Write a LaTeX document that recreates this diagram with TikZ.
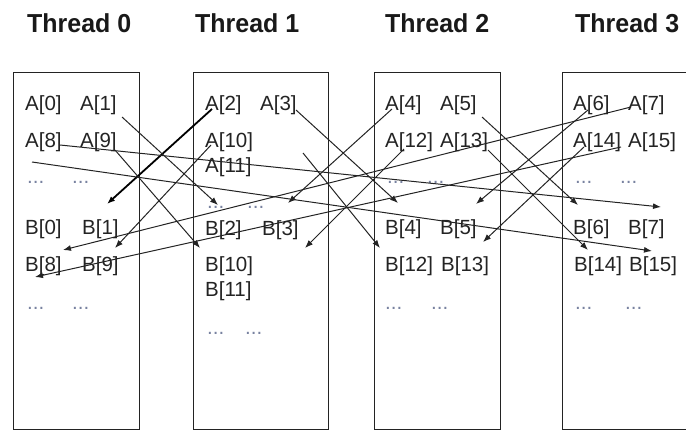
\documentclass[tikz,border=0pt]{standalone}
\usepackage{fontspec}
\setmainfont{Liberation Sans}
\usetikzlibrary{arrows.meta}
\definecolor{dotgray}{RGB}{120,130,160}
\definecolor{ink}{RGB}{35,35,35}
\begin{document}
\begin{tikzpicture}[x=1pt,y=-1pt,
  lbl/.style={anchor=base west, inner sep=0pt, font=\fontsize{20.5}{24}\selectfont, text=ink},
  dotrow/.style={lbl, text=dotgray},
  title/.style={anchor=base west, inner sep=0pt, font=\bfseries\fontsize{26}{30}\selectfont,
                text=black!90, xscale=0.96},
  lane/.style={draw=ink, line width=1.3pt, anchor=north west, inner sep=0pt,
               minimum height=357pt},
  move/.style={draw=ink, line width=1pt, -{Latex[length=8pt,width=6pt]}},
  movebold/.style={move, draw=black, line width=1.8pt},
]
\useasboundingbox (0,0) rectangle (686,431);
\clip (0,0) rectangle (686,431);

% thread headings
\node[title] (t0) at (27,32)  {Thread 0};
\node[title] (t1) at (195,32) {Thread 1};
\node[title] (t2) at (385,32) {Thread 2};
\node[title] (t3) at (575,32) {Thread 3};

% per-thread memory columns
\node[lane, minimum width=126pt] (lane0) at (13,72)  {};
\node[lane, minimum width=135pt] (lane1) at (193,72) {};
\node[lane, minimum width=126pt] (lane2) at (374,72) {};
\node[lane, minimum width=140pt] (lane3) at (562,72) {};

% thread 0
\node[lbl] (A0)  at (25,110)   {A[0]};
\node[lbl] (A1)  at (80,110)   {A[1]};
\node[lbl] (A8)  at (25,147.5) {A[8]};
\node[lbl] (A9)  at (80,147.5) {A[9]};
\node[dotrow] (d0a) at (27,183) {...};
\node[dotrow] (d0b) at (72,183) {...};
\node[lbl] (B0)  at (25,234.5) {B[0]};
\node[lbl] (B1)  at (82,234.5) {B[1]};
\node[lbl] (B8)  at (25,271.5) {B[8]};
\node[lbl] (B9)  at (82,271.5) {B[9]};
\node[dotrow] (d0c) at (27,309) {...};
\node[dotrow] (d0d) at (72,309) {...};

% thread 1
\node[lbl] (A2)  at (205,110)   {A[2]};
\node[lbl] (A3)  at (260,110)   {A[3]};
\node[lbl] (A10) at (205,147.5) {A[10]};
\node[lbl] (A11) at (205,172.5) {A[11]};
\node[dotrow] (d1a) at (207,208) {...};
\node[dotrow] (d1b) at (247,208) {...};
\node[lbl] (B2)  at (205,235)   {B[2]};
\node[lbl] (B3)  at (262,235)   {B[3]};
\node[lbl] (B10) at (205,271.5) {B[10]};
\node[lbl] (B11) at (205,296.5) {B[11]};
\node[dotrow] (d1c) at (207,334) {...};
\node[dotrow] (d1d) at (245,334) {...};

% thread 2
\node[lbl] (A4)  at (385,110)   {A[4]};
\node[lbl] (A5)  at (440,110)   {A[5]};
\node[lbl] (A12) at (385,147.5) {A[12]};
\node[lbl] (A13) at (440,147.5) {A[13]};
\node[dotrow] (d2a) at (387,183) {...};
\node[dotrow] (d2b) at (427,183) {...};
\node[lbl] (B4)  at (385,234.5) {B[4]};
\node[lbl] (B5)  at (440,234.5) {B[5]};
\node[lbl] (B12) at (385,271.5) {B[12]};
\node[lbl] (B13) at (441,271.5) {B[13]};
\node[dotrow] (d2c) at (385,309) {...};
\node[dotrow] (d2d) at (431,309) {...};

% thread 3
\node[lbl] (A6)  at (573,110)   {A[6]};
\node[lbl] (A7)  at (628,110)   {A[7]};
\node[lbl] (A14) at (573,147.5) {A[14]};
\node[lbl] (A15) at (628,147.5) {A[15]};
\node[dotrow] (d3a) at (575,183) {...};
\node[dotrow] (d3b) at (620,183) {...};
\node[lbl] (B6)  at (573,234.5) {B[6]};
\node[lbl] (B7)  at (628,234.5) {B[7]};
\node[lbl] (B14) at (574,271.5) {B[14]};
\node[lbl] (B15) at (629,271.5) {B[15]};
\node[dotrow] (d3c) at (575,309) {...};
\node[dotrow] (d3d) at (625,309) {...};

% start and end points of the element moves
\coordinate (a1out)  at (122,117);  \coordinate (b2in)  at (218,205);
\coordinate (a9out)  at (115,150);  \coordinate (b10in) at (200,248);
\coordinate (a2out)  at (212,109);  \coordinate (b1in)  at (107,204);
\coordinate (a10out) at (211,145);  \coordinate (b9in)  at (115,248);
\coordinate (a3out)  at (296,110);  \coordinate (b4in)  at (398,203);
\coordinate (a11out) at (303,153);  \coordinate (b12in) at (380,248);
\coordinate (a4out)  at (392,109);  \coordinate (b3in)  at (288,203);
\coordinate (a12out) at (404,149);  \coordinate (b11in) at (305,248);
\coordinate (a5out)  at (482,117);  \coordinate (b6in)  at (578,205);
\coordinate (a13out) at (488,150);  \coordinate (b14in) at (588,250);
\coordinate (a6out)  at (588,110);  \coordinate (b5in)  at (476,204);
\coordinate (a14out) at (584,147);  \coordinate (b13in) at (483,242);
\coordinate (a7out)  at (631,107);  \coordinate (b8in)  at (63,250);
\coordinate (a15out) at (621,147);  \coordinate (bnext) at (35,277);
\coordinate (a8out)  at (60,145);   \coordinate (b7in)  at (661,207);
\coordinate (anext)  at (32,162);   \coordinate (b15in) at (652,251);

% moves
\draw[movebold] (a2out) -- (b1in);
\draw[move] (a1out)  -- (b2in);
\draw[move] (a9out)  -- (b10in);
\draw[move] (a10out) -- (b9in);
\draw[move] (a3out)  -- (b4in);
\draw[move] (a11out) -- (b12in);
\draw[move] (a4out)  -- (b3in);
\draw[move] (a12out) -- (b11in);
\draw[move] (a5out)  -- (b6in);
\draw[move] (a13out) -- (b14in);
\draw[move] (a6out)  -- (b5in);
\draw[move] (a14out) -- (b13in);
\draw[move] (a7out)  -- (b8in);
\draw[move] (a15out) -- (bnext);
\draw[move] (a8out)  -- (b7in);
\draw[move] (anext)  -- (b15in);
\end{tikzpicture}
\end{document}
